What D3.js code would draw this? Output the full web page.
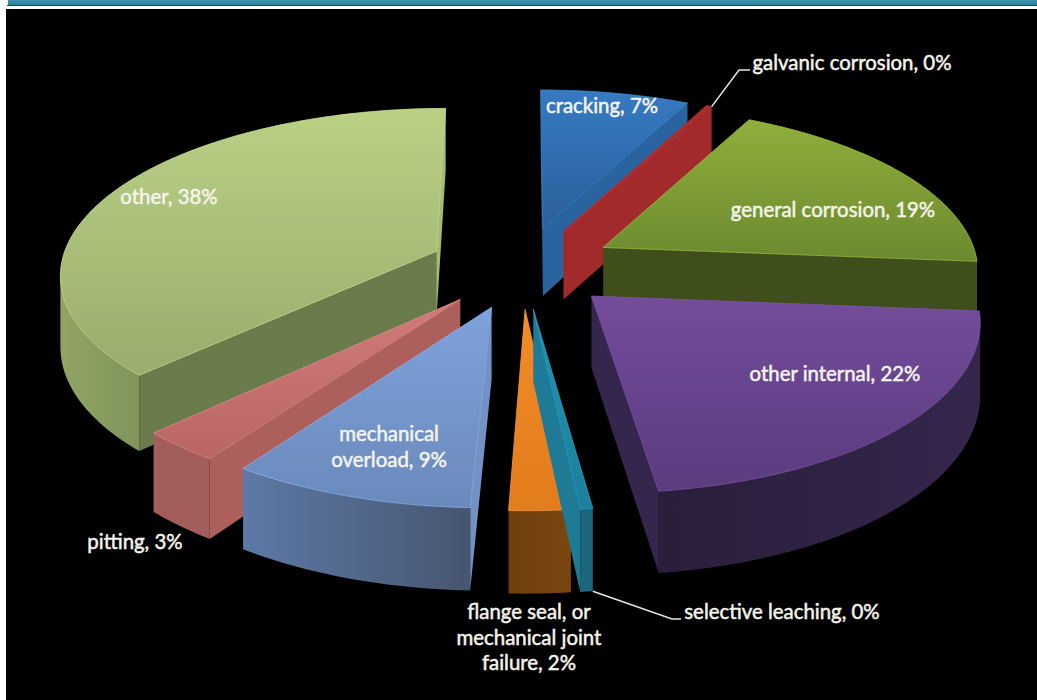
<!DOCTYPE html>
<html>
<head>
<meta charset="utf-8">
<style>
  html, body { margin: 0; padding: 0; background: #fff; }
  svg { display: block; }
  text { font-family: Lato, "Open Sans", sans-serif; font-weight: 400; fill: #f4f4ec; stroke: #f4f4ec; stroke-width: 0.5px; font-size: 20.4px; }
</style>
<script src="https://cdn.jsdelivr.net/npm/d3@7"></script>
</head>
<body>
<svg id="chart" width="1037" height="700"></svg>
<script>
// Failure mechanisms, clockwise from twelve o'clock
const categories = ["cracking", "galvanic corrosion", "general corrosion", "other internal",
  "selective leaching", "flange seal, or mechanical joint failure", "mechanical overload", "pitting", "other"];
const shares = [7.45, 0.28, 19, 21.85, 0.46, 2.26, 9.07, 3.05, 37.95];

// Slice palette: top face gradient, outer wall ends, start-side wall, end-side wall
const topLight = ["#367ac2", "#ad2c2c", "#8fae3c", "#744c9c", "#2393b3", "#f28c28", "#7fa2dc", "#d07c7a", "#bad084"];
const topDark = ["#2a5f9b", "#a02929", "#6b8a2e", "#5a3c7e", "#1d7f9c", "#e27c1c", "#6a89bb", "#b96664", "#98ad6e"];
const outerFrom = ["#2a5f98", "#8f2626", "#3f4f1c", "#35264c", "#1c6680", "#7a4610", "#465670", "#a35d5a", "#7f955a"];
const outerTo = ["#2a5f98", "#8f2626", "#3f4f1c", "#2a1e3b", "#1c6680", "#6e3f0e", "#5d79a6", "#a35d5a", "#90a564"];
const startWall = ["#25598f", "#a32a2a", "#3f4f1c", "#35264e", "#1f7a96", "#6e3f0e", "#7292c4", "#ad5f5c", "#6a7c4c"];
const endWall = ["#2a64a0", "#a32a2a", "#3f4f1c", "#35264e", "#1f7a96", "#6e3f0e", "#4f6587", "#ad5f5c", "#a6bb72"];

// Painter's order, rear slices first
const drawOrder = ["cracking", "galvanic corrosion", "general corrosion", "other", "pitting",
  "mechanical overload", "flange seal, or mechanical joint failure", "selective leaching", "other internal"];

// Perspective camera over the pie plane; u points right and v towards the viewer, in radii
const centreX = 522, centreY = 267;
const spreadX = 376, spreadY = 164.5, nearGain = 0.125;
const explode = 0.25, thickness = 70;

const depth = v => 1 - nearGain * v;
const scaleU = d3.scaleLinear().domain([0, 1]).range([centreX, centreX + spreadX]);
const scaleV = d3.scaleLinear().domain([0, 1]).range([centreY, centreY + spreadY]);

function project(u, v, down) {
  const w = depth(v);
  return [scaleU(u / w), scaleV(v / w) + (down ? thickness / w : 0)];
}

const svg = d3.select("#chart");

// Page furniture: the banner strip and the dark panel
const defs = svg.append("defs");
const bannerFill = defs.append("linearGradient")
  .attr("id", "banner").attr("x1", 0).attr("x2", 0).attr("y1", 0).attr("y2", 1);
bannerFill.append("stop").attr("offset", 0).attr("stop-color", "#3f97ad");
bannerFill.append("stop").attr("offset", 1).attr("stop-color", "#2a7f9c");
svg.append("rect").attr("x", 8).attr("y", 0).attr("width", 1029).attr("height", 5).attr("fill", "url(#banner)");
svg.append("rect").attr("x", 7).attr("y", 5).attr("width", 1030).attr("height", 1).attr("fill", "#1d4a58");
svg.append("rect").attr("x", 6).attr("y", 9).attr("width", 1031).attr("height", 691).attr("fill", "#000");

const arcs = d3.pie().value(d => d).sort(null)(shares);
const line = d3.line();

const slices = arcs.map((arc, i) => {
  const mid = (arc.startAngle + arc.endAngle) / 2;
  const ou = explode * Math.sin(mid), ov = -explode * Math.cos(mid);
  const steps = Math.max(2, Math.ceil((arc.endAngle - arc.startAngle) / 0.02));
  const rim = d3.range(steps + 1).map(k => {
    const a = arc.startAngle + (arc.endAngle - arc.startAngle) * k / steps;
    return [ou + Math.sin(a), ov - Math.cos(a)];
  });
  return { name: categories[i], i, apex: [ou, ov], rim };
});

function linearFill(id, x1, y1, x2, y2, from, to) {
  const grad = defs.append("linearGradient").attr("id", id).attr("gradientUnits", "userSpaceOnUse")
    .attr("x1", x1).attr("y1", y1).attr("x2", x2).attr("y2", y2);
  grad.append("stop").attr("offset", 0).attr("stop-color", from);
  grad.append("stop").attr("offset", 1).attr("stop-color", to);
  return `url(#${id})`;
}

const pieGroup = svg.append("g");

// Radial walls are wound so that a negative area means they face the viewer
const radialVisible = corners => d3.polygonArea(corners) < 0;

drawOrder.forEach(name => {
  const s = slices.find(d => d.name === name);
  const g = pieGroup.append("g").attr("class", "slice");
  const [au, av] = s.apex;
  const first = s.rim[0], last = s.rim[s.rim.length - 1];

  // Radial wall on the start side
  const startFace = [project(au, av, true), project(first[0], first[1], true), project(first[0], first[1]), project(au, av)];
  if (radialVisible(startFace)) {
    g.append("path").attr("d", line(startFace) + "Z").attr("fill", startWall[s.i]);
  }

  // Radial wall on the end side
  const endFace = [project(au, av), project(last[0], last[1]), project(last[0], last[1], true), project(au, av, true)];
  if (radialVisible(endFace)) {
    g.append("path").attr("d", line(endFace) + "Z").attr("fill", endWall[s.i]);
  }

  // Curved outer wall: the run of rim points whose facets look at the viewer
  const facing = d3.pairs(s.rim).filter(([p, q]) => d3.polygonArea([
    project(p[0], p[1]), project(q[0], q[1]), project(q[0], q[1], true), project(p[0], p[1], true)
  ]) > 0);
  if (facing.length) {
    const run = [facing[0][0], ...facing.map(pair => pair[1])];
    const upper = run.map(p => project(p[0], p[1]));
    const lower = run.map(p => project(p[0], p[1], true)).reverse();
    const xs = upper.map(p => p[0]);
    g.append("path").attr("d", line([...upper, ...lower]) + "Z")
      .attr("fill", linearFill("wall" + s.i, xs[0], 0, xs[xs.length - 1], 0, outerFrom[s.i], outerTo[s.i]));
  }

  // Top face with a soft vertical shade
  const outline = [project(au, av), ...s.rim.map(p => project(p[0], p[1]))];
  const ys = outline.map(p => p[1]);
  g.append("path").attr("d", line(outline) + "Z")
    .attr("fill", linearFill("top" + s.i, 0, d3.min(ys), 0, d3.max(ys), topLight[s.i], topDark[s.i]))
    .attr("stroke", d3.color(topLight[s.i]).brighter(0.25)).attr("stroke-width", 0.8);
});

// Data labels, stated as "name, share"
const labelRows = [
  { x: 602, y: 113, lines: ["cracking, 7%"] },
  { x: 852, y: 70, lines: ["galvanic corrosion, 0%"] },
  { x: 833, y: 217, lines: ["general corrosion, 19%"] },
  { x: 835, y: 381, lines: ["other internal, 22%"] },
  { x: 782, y: 619, lines: ["selective leaching, 0%"] },
  { x: 529, y: 619, lines: ["flange seal, or", "mechanical joint", "failure, 2%"] },
  { x: 389, y: 441, lines: ["mechanical", "overload, 9%"] },
  { x: 135, y: 549, lines: ["pitting, 3%"] },
  { x: 169, y: 204, lines: ["other, 38%"] }
];

const labelGroup = svg.append("g");
labelRows.forEach(row => {
  const t = labelGroup.append("text").attr("text-anchor", "middle").attr("x", row.x).attr("y", row.y);
  row.lines.forEach((txt, k) => {
    t.append("tspan").attr("x", row.x).attr("dy", k ? 25.5 : 0).text(txt);
  });
});

// Leader lines for the two slices too thin to hold a label
const galvanicTip = project(...slices[1].rim[slices[1].rim.length - 1]);
const leachingTip = project(...slices[4].rim[0], true);
const leaders = [
  [galvanicTip, [739, 70], [750, 70]],
  [leachingTip, [672, 619], [681, 619]]
];
svg.append("g").selectAll("path").data(leaders).join("path")
  .attr("d", d => line(d)).attr("fill", "none").attr("stroke", "#e6e6e6").attr("stroke-width", 1.5);
</script>
</body>
</html>
